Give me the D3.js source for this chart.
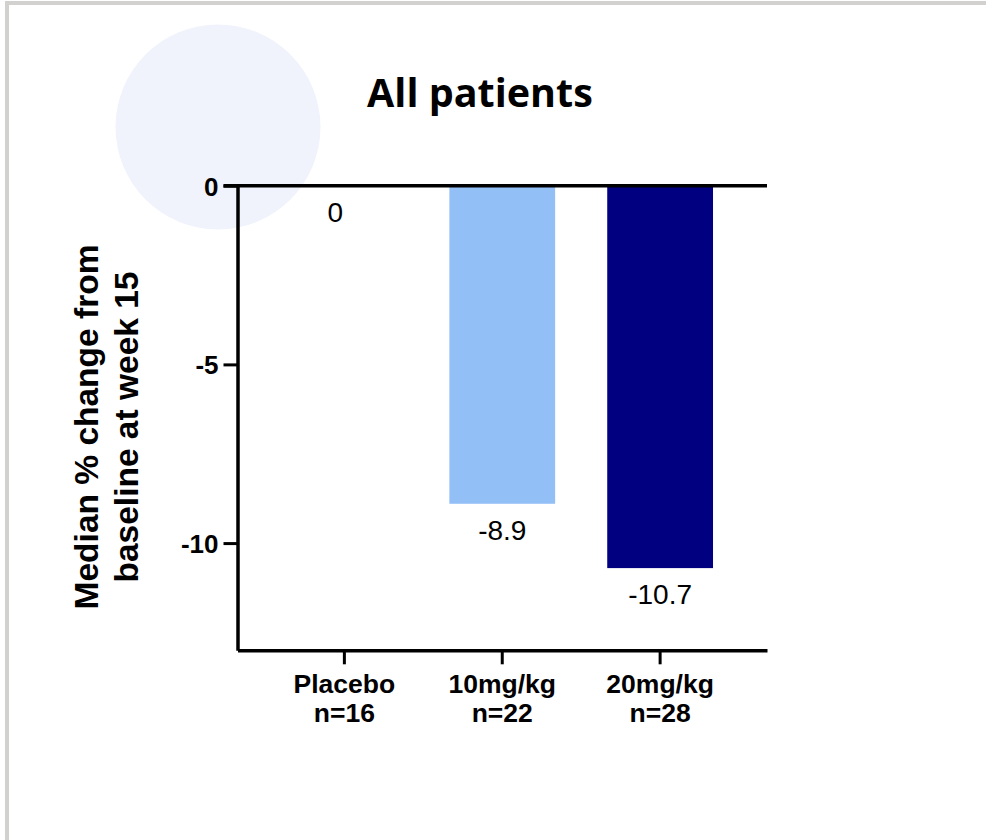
<!DOCTYPE html>
<html>
<head>
<meta charset="utf-8">
<script src="https://cdn.jsdelivr.net/npm/d3@7"></script>
<style>
  html, body { margin: 0; padding: 0; background: #ffffff; }
  svg { display: block; }
</style>
</head>
<body>
<svg id="chart" width="986" height="840"></svg>
<script>
// Treatment groups, their sample sizes and median % change at week 15
const categories = ["Placebo", "10mg/kg", "20mg/kg"];
const sampleSizes = ["n=16", "n=22", "n=28"];
const medianChange = [0, -8.9, -10.7];
const barColors = ["#93bff7", "#93bff7", "#000080"];
const yTicks = [0, -5, -10];
const yDomain = [-13, 0];

// plain hyphen-minus for negative numbers
const fmt = d => String(d);

const svg = d3.select("#chart");
const W = 986, H = 840;

// frame
svg.append("rect")
  .attr("x", 7).attr("y", 3)
  .attr("width", W + 20).attr("height", H + 20)
  .attr("fill", "#ffffff")
  .attr("stroke", "#d3d0d0").attr("stroke-width", 4);

// soft decorative disc
svg.append("circle")
  .attr("cx", 218).attr("cy", 127).attr("r", 102.5)
  .attr("fill", "#f0f3fc");

const plot = { left: 237.5, right: 767, top: 185.7, bottom: 650.3 };

const x = d3.scaleBand()
  .domain(categories)
  .range([plot.left, plot.right])
  .paddingInner(0.33)
  .paddingOuter(0.342);

const y = d3.scaleLinear()
  .domain(yDomain)
  .range([plot.bottom, plot.top]);

const rows = categories.map((c, i) => ({ cat: c, n: sampleSizes[i], v: medianChange[i], color: barColors[i] }));

// title
svg.append("text")
  .attr("x", 480).attr("y", 107)
  .attr("text-anchor", "middle")
  .style("font-family", "'Open Sans', sans-serif")
  .style("font-weight", 700)
  .style("font-size", "39.5px")
  .attr("fill", "#000")
  .text("All patients");

// bars
svg.append("g").selectAll("rect")
  .data(rows.filter(d => d.v !== 0))
  .join("rect")
  .attr("x", d => x(d.cat))
  .attr("width", x.bandwidth())
  .attr("y", d => y(0))
  .attr("height", d => y(d.v) - y(0))
  .attr("fill", d => d.color);

// value labels under each bar end (the zero label sits a little left of centre)
svg.append("g").selectAll("text")
  .data(rows)
  .join("text")
  .attr("x", d => x(d.cat) + x.bandwidth() / 2 + (d.v === 0 ? -9 : 0))
  .attr("y", d => y(d.v) + 36)
  .attr("text-anchor", "middle")
  .style("font-family", "'Liberation Sans', Arial, sans-serif")
  .style("font-size", "28px")
  .attr("fill", "#000")
  .text(d => fmt(d.v));

// y axis
const yAxis = svg.append("g")
  .attr("transform", `translate(${plot.left},0)`)
  .call(d3.axisLeft(y).tickValues(yTicks).tickSize(14).tickSizeOuter(0).tickPadding(5).tickFormat(fmt));
yAxis.select(".domain").attr("stroke", "#000").attr("stroke-width", 3.5);
yAxis.selectAll(".tick line").attr("stroke", "#000").attr("stroke-width", 3);
yAxis.selectAll(".tick text")
  .attr("dy", "0.36em")
  .style("font-family", "'Liberation Sans', Arial, sans-serif")
  .style("font-weight", 700)
  .style("font-size", "26px")
  .attr("fill", "#000");

// zero baseline across the plot
svg.append("line")
  .attr("x1", plot.left - 14).attr("x2", plot.right)
  .attr("y1", y(0)).attr("y2", y(0))
  .attr("stroke", "#000").attr("stroke-width", 3.5);

// x axis
const xAxis = svg.append("g")
  .attr("transform", `translate(0,${plot.bottom})`)
  .call(d3.axisBottom(x).tickSize(14).tickSizeOuter(0).tickFormat(""));
xAxis.select(".domain").attr("stroke", "#000").attr("stroke-width", 3.5);
xAxis.selectAll(".tick line").attr("stroke", "#000").attr("stroke-width", 3);

const catLabels = svg.append("g").selectAll("text")
  .data(rows)
  .join("text")
  .attr("text-anchor", "middle")
  .attr("transform", d => `translate(${x(d.cat) + x.bandwidth() / 2},693)`)
  .style("font-family", "'Liberation Sans', Arial, sans-serif")
  .style("font-weight", 700)
  .style("font-size", "26.5px")
  .attr("fill", "#000");
catLabels.append("tspan").attr("x", 0).attr("y", 0).text(d => d.cat);
catLabels.append("tspan").attr("x", 0).attr("y", 29).text(d => d.n);

// y axis title
const yTitle = svg.append("text")
  .attr("transform", "translate(98,427) rotate(-90)")
  .attr("text-anchor", "middle")
  .style("font-family", "'Liberation Sans', Arial, sans-serif")
  .style("font-weight", 700)
  .style("font-size", "33.5px")
  .attr("fill", "#000");
yTitle.append("tspan").attr("x", 0).attr("y", 0).text("Median % change from");
yTitle.append("tspan").attr("x", 0).attr("y", 40).text("baseline at week 15");
</script>
</body>
</html>
